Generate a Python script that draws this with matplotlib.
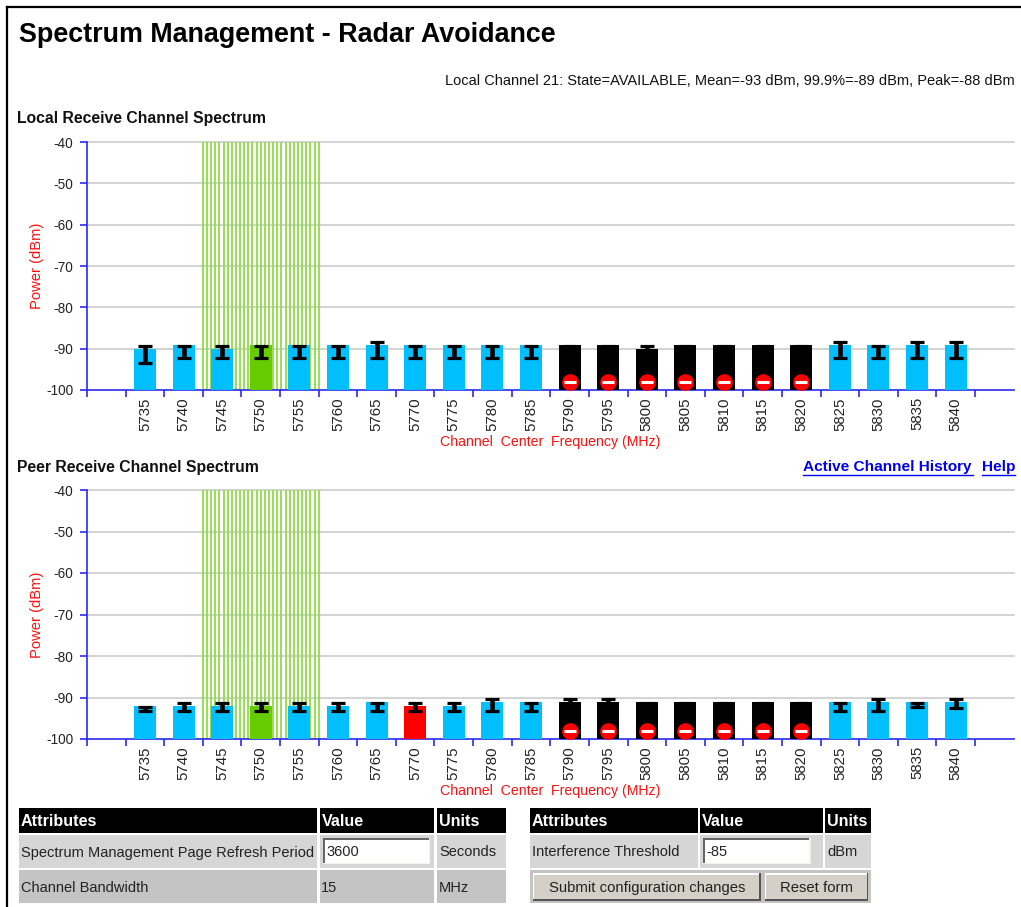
import numpy as np
import matplotlib
matplotlib.use("Agg")
import matplotlib.pyplot as plt
from matplotlib.patches import Rectangle
from matplotlib.transforms import ScaledTranslation

plt.rcParams['font.family'] = ['Liberation Sans', 'DejaVu Sans']
plt.rcParams['axes.unicode_minus'] = False

W, H = 1021, 907

channels = [5735, 5740, 5745, 5750, 5755, 5760, 5765, 5770, 5775, 5780, 5785, 5790,
            5795, 5800, 5805, 5810, 5815, 5820, 5825, 5830, 5835, 5840]

# bar tops and whisker ends, dBm
local_mean = [-90, -89, -90, -89, -89, -89, -89, -89, -89, -89, -89, -89,
              -89, -90, -89, -89, -89, -89, -89, -89, -89, -89]
local_high = [-89.3, -89.3, -89.3, -89.3, -89.3, -89.3, -88.3, -89.3, -89.3, -89.3, -89.3, -89.3,
              -89.3, -89.3, -89.3, -89.3, -89.3, -89.3, -88.3, -89.3, -88.3, -88.3]
local_low = [-93.5, -92.3, -92.3, -92.3, -92.3, -92.3, -92.3, -92.3, -92.3, -92.3, -92.3, -92.3,
             -92.3, -92.3, -92.3, -92.3, -92.3, -92.3, -92.3, -92.3, -92.3, -92.3]

peer_mean = [-92, -92, -92, -92, -92, -92, -91, -92, -92, -91, -91, -91,
             -91, -91, -91, -91, -91, -91, -91, -91, -91, -91]
peer_high = [-92.3, -91.3, -91.3, -91.3, -91.3, -91.3, -91.3, -91.3, -91.3, -90.3, -91.3, -90.3,
             -90.3, -91.3, -91.3, -91.3, -91.3, -91.3, -91.3, -90.3, -91.3, -90.3]
peer_low = [-93.3, -93.3, -93.3, -93.3, -93.3, -93.3, -93.3, -93.3, -93.3, -93.3, -93.3, -93.3,
            -93.3, -93.3, -93.3, -93.3, -93.3, -93.3, -93.3, -93.3, -92.4, -92.5]

blocked = [5790, 5795, 5800, 5805, 5810, 5815, 5820]
active_channel = 5750
band_low, band_high = 5742.5, 5757.5
peer_red = [5770]

yticks = [-40, -50, -60, -70, -80, -90, -100]

BLUE = '#2a2aee'
RED = '#ff1010'
fig = plt.figure(figsize=(W / 100, H / 100), dpi=100)

# page layer, in image pixels
page = fig.add_axes([0, 0, 1, 1], zorder=0)
page.set_xlim(0, W)
page.set_ylim(H, 0)
page.axis('off')


def box(x0, y0, x1, y1, color, **kw):
    page.add_patch(Rectangle((x0, y0), x1 - x0, y1 - y0, facecolor=color, edgecolor='none', **kw))


def bar_color(ch, red=()):
    if ch in blocked:
        return 'black'
    if ch == active_channel:
        return '#66cc00'
    if ch in red:
        return '#ff0000'
    return '#00bfff'


def spectrum(top, bottom, mean, low, high, red=()):
    ax = fig.add_axes([87 / W, 1 - bottom / H, (1013.6 - 87) / W, (bottom - top) / H], zorder=2)
    ax.patch.set_alpha(0)
    ax.set_xlim(5727.5, 5847.5)
    ax.set_ylim(-100, -40)
    for y in yticks[:-1]:
        ax.axhline(y, color='#cccccc', lw=1.2, zorder=1, clip_on=False)
    ax.vlines(np.linspace(band_low, band_high, 29), -100, -40, color='#8fdc45', lw=1.3, zorder=2)
    colors = [bar_color(c, red) for c in channels]
    ax.bar(channels, [m + 100 for m in mean], bottom=-100, width=2.85, color=colors, zorder=3)
    # whisker ends can sit inside the bar, so draw from the midpoint of low/high
    mid = [(l + h) / 2 for l, h in zip(low, high)]
    half = [(h - l) / 2 for l, h in zip(low, high)]
    ax.errorbar(channels, mid, yerr=half, fmt='none', ecolor='black', elinewidth=3.3,
                capsize=5.2, capthick=2.3, zorder=4)
    ax.plot(blocked, [-98] * len(blocked), 'o', ms=12, color='#ff0000', mew=0, zorder=5)
    ax.plot(blocked, [-98] * len(blocked), '_', ms=8, color='white', mew=2.2, zorder=6)
    for s in ['top', 'right']:
        ax.spines[s].set_visible(False)
    for s in ['left', 'bottom']:
        ax.spines[s].set_color(BLUE)
        ax.spines[s].set_linewidth(1.2)
    ax.set_yticks(yticks)
    ax.set_xticks(np.arange(5727.5, 5843, 5))
    ax.set_xticklabels([])
    ax.set_xticks(channels, minor=True)
    ax.set_xticklabels([str(c) for c in channels], minor=True, rotation=90, fontsize=10.8, color='#222222',
                       rotation_mode='anchor', ha='right', va='center')
    nudge = ScaledTranslation(1.5 / 100, 0, fig.dpi_scale_trans)
    for lab in ax.get_xticklabels(minor=True):
        lab.set_transform(lab.get_transform() + nudge)
    ax.tick_params(axis='x', which='minor', length=0, pad=5.2)
    ax.tick_params(axis='x', which='major', length=5, width=1.2, color=BLUE)
    ax.tick_params(axis='y', length=5, width=1.2, color=BLUE, labelsize=9.8, pad=5, labelcolor='#222222')
    ax.set_ylabel('Power (dBm)', color=RED, fontsize=10.6, va='center')
    ax.yaxis.set_label_coords((37 - 87) / 926.6, 0.5)
    ax.set_xlabel('Channel  Center  Frequency (MHz)', color=RED, fontsize=10.2, va='center')
    ax.xaxis.set_label_coords(0.5, -(442 - 390) / 248)
    return ax


spectrum(142, 390, local_mean, local_low, local_high)
spectrum(490, 739, peer_mean, peer_low, peer_high, red=peer_red)

# page frame
page.plot([7, 7], [7, H], color='black', lw=1.6)
page.plot([7, W], [7, 7], color='black', lw=1.6)

page.text(19, 35, 'Spectrum Management - Radar Avoidance', fontsize=19.35, fontweight='bold', va='center')
page.text(1015, 81, 'Local Channel 21: State=AVAILABLE, Mean=-93 dBm, 99.9%=-89 dBm, Peak=-88 dBm',
          fontsize=10.55, ha='right', va='center', color='#111111')
page.text(17, 118.5, 'Local Receive Channel Spectrum', fontsize=11.3, fontweight='bold', va='center', color='#111111')
page.text(17, 467.5, 'Peer Receive Channel Spectrum', fontsize=11.3, fontweight='bold', va='center', color='#111111')

for label, x0, x1 in [('Active Channel History', 803, 973), ('Help', 982, 1015)]:
    page.text(x0, 467.5, label, fontsize=11.1, fontweight='bold', va='center', color='#0000ee')
    page.plot([x0, x1], [474.5, 474.5], color='#0000ee', lw=1)

# tables under the charts
header_y = (807.5, 832.5)
row1_y = (834.7, 868)
row2_y = (870.3, 903.3)
GREY1 = '#d6d6d6'
GREY2 = '#c4c4c4'

for x0, x1, label in [(19, 317, 'Attributes'), (319.5, 434, 'Value'), (436.5, 505.5, 'Units'),
                      (530, 697.5, 'Attributes'), (700, 822.7, 'Value'), (825.3, 871, 'Units')]:
    box(x0, header_y[0], x1, header_y[1], 'black')
    page.text(x0 + 2, 821, label, color='white', fontsize=11.6, fontweight='bold', va='center')

for x0, x1 in [(19, 317), (319.5, 434), (436.5, 505.5), (530, 697.5), (700, 822.7), (825.3, 871)]:
    box(x0, row1_y[0], x1, row1_y[1], GREY1)
for x0, x1 in [(19, 317), (319.5, 434), (436.5, 505.5), (530, 871)]:
    box(x0, row2_y[0], x1, row2_y[1], GREY2)

for x, y, label in [(21, 852.5, 'Spectrum Management Page Refresh Period'), (439, 852.5, 'Seconds'),
                    (21, 887.5, 'Channel Bandwidth'), (321, 887.5, '15'), (439, 887.5, 'MHz'),
                    (532, 852.5, 'Interference Threshold'), (827, 852.5, 'dBm')]:
    page.text(x, y, label, fontsize=10.5, va='center', color='#222222')

for x0, x1, label in [(323, 430, '3600'), (703, 810.5, '-85')]:
    box(x0, 838, x1, 864, '#f4f2ec')
    box(x0, 838, x1 - 1.5, 862.5, '#666666')
    box(x0 + 1.5, 839.5, x1 - 1.5, 862.5, 'white')
    page.text(x0 + 3, 852.5, label, fontsize=10.5, va='center', color='#222222')

for x0, x1, label in [(533, 760.5, 'Submit configuration changes'), (765, 868.3, 'Reset form')]:
    box(x0, 873.3, x1, 900.7, '#555555')
    box(x0, 873.3, x1 - 1.5, 899.2, 'white')
    box(x0 + 1.2, 874.5, x1 - 1.5, 899.2, '#d4d0c8')
    page.text((x0 + x1) / 2, 888, label, fontsize=10.7, ha='center', va='center', color='#222222')

fig.savefig('out.png', dpi=100)
